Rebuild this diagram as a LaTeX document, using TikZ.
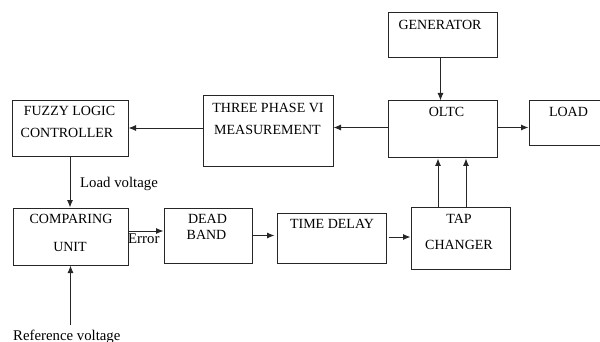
\documentclass[tikz,border=0pt]{standalone}
\usepackage{fontspec}
\setmainfont{Liberation Serif}
\usetikzlibrary{arrows.meta}
\begin{document}
\begin{tikzpicture}[x=1pt,y=-1pt,
  box/.style={draw=black!85, line width=1pt, rectangle, inner sep=0pt},
  arr/.style={draw=black!85, line width=0.9pt, -{Latex[length=7.5pt,width=6pt]}},
  btxt/.style={anchor=base, inner sep=0pt, font=\fontsize{14}{14}\selectfont},
  ltxt/.style={anchor=base west, inner sep=0pt, font=\fontsize{14.8}{15}\selectfont}]
\useasboundingbox (0,0) rectangle (600,342);
% boxes
\node[box, minimum width=116pt, minimum height=56pt] (fuzzy) at (70,129) {};
\node[box, minimum width=130pt, minimum height=71pt] (tp) at (268,131.5) {};
\node[box, minimum width=109pt, minimum height=45pt] (gen) at (442.5,35.5) {};
\node[box, minimum width=109pt, minimum height=57pt] (oltc) at (442.5,129.5) {};
\node[box, minimum width=81pt, minimum height=45pt] (load) at (569.5,123.5) {};
\node[box, minimum width=115pt, minimum height=57pt] (comp) at (70.5,236.5) {};
\node[box, minimum width=88pt, minimum height=55pt] (dead) at (208,235.5) {};
\node[box, minimum width=109pt, minimum height=50pt] (time) at (331.5,238) {};
\node[box, minimum width=99pt, minimum height=62pt] (tap) at (460.5,238) {};
% box texts
\node[btxt] (t1) at (69.5,116) {FUZZY LOGIC};
\node[btxt] (t2) at (67,138) {CONTROLLER};
\node[btxt] (t3) at (268,113) {THREE PHASE VI};
\node[btxt] (t4) at (267.5,135) {MEASUREMENT};
\node[btxt] (t5) at (440,30) {GENERATOR};
\node[btxt] (t6) at (446.5,117) {OLTC};
\node[btxt] (t7) at (568.5,117) {LOAD};
\node[btxt] (t8) at (71,223) {COMPARING};
\node[btxt] (t9) at (70,251) {UNIT};
\node[btxt] (t10) at (207.5,223) {DEAD};
\node[btxt] (t11) at (206.5,239) {BAND};
\node[btxt] (t12) at (332,229) {TIME DELAY};
\node[btxt] (t13) at (459,223) {TAP};
\node[btxt] (t14) at (459,249) {CHANGER};
% labels
\node[ltxt] (lv) at (80,187) {Load voltage};
\node[ltxt] (err) at (128,243) {Error};
\node[ltxt] (rv) at (13,340) {Reference voltage};
\coordinate (refin) at (70.5,325);
% connectors
\draw[arr] ([xshift=-2pt]gen.south) -- ([xshift=-2pt]oltc.north);
\draw[arr] ([yshift=2pt]oltc.west) -- ([yshift=2pt]oltc.west -| tp.east);
\draw[arr] ([yshift=1pt]fuzzy.east -| tp.west) -- ([yshift=1pt]fuzzy.east);
\draw[arr] ([yshift=2pt]oltc.east) -- ([yshift=2pt]oltc.east -| load.west);
\draw[arr] (fuzzy.south) -- (fuzzy.south |- comp.north);
\draw[arr] ([yshift=5.5pt]comp.east) -- ([yshift=5.5pt]comp.east -| dead.west);
\draw[arr] (dead.east) -- ([xshift=-2pt]dead.east -| time.west);
\draw[arr] ([xshift=2pt,yshift=1pt]time.east) -- ([yshift=1pt]time.east -| tap.west);
\draw[arr] ([xshift=-22.5pt]tap.north) -- ([xshift=-22.5pt]tap.north |- oltc.south);
\draw[arr] ([xshift=5.5pt]tap.north) -- ([xshift=5.5pt]tap.north |- oltc.south);
\draw[arr] (refin) -- (comp.south);
\end{tikzpicture}
\end{document}
